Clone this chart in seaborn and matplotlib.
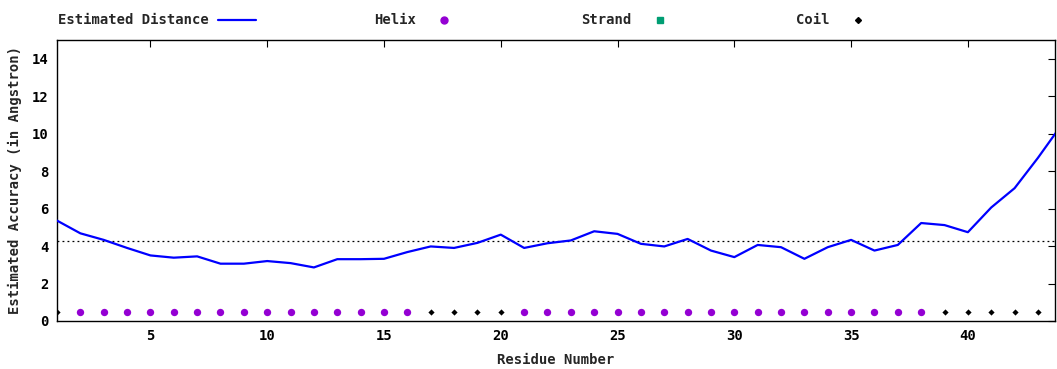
import numpy as np
import pandas as pd
import matplotlib
matplotlib.use("Agg")
import matplotlib.pyplot as plt
import seaborn as sns
from matplotlib.lines import Line2D

# Estimated distance per residue (last point runs past the right edge)
residues = list(range(1, 45))
est_dist = [5.36, 4.68, 4.33, 3.90, 3.50, 3.38, 3.45, 3.06, 3.06, 3.20,
            3.09, 2.86, 3.30, 3.30, 3.32, 3.68, 3.98, 3.90, 4.17, 4.61,
            3.90, 4.15, 4.30, 4.79, 4.65, 4.12, 3.98, 4.38, 3.76, 3.41,
            4.06, 3.94, 3.32, 3.94, 4.33, 3.76, 4.06, 5.23, 5.12, 4.74,
            6.06, 7.09, 8.71, 10.45]

# secondary structure per residue (H helix, E strand, C coil)
ss_string = "C" + "H" * 15 + "C" * 4 + "H" * 18 + "C" * 5
ss_residues = list(range(1, len(ss_string) + 1))
ss_level = 0.5
avg_dist = 4.29

ss_names = {"H": "Helix", "E": "Strand", "C": "Coil"}
ss_colors = {"Helix": "#9400d3", "Strand": "#009e73", "Coil": "#000000"}
ss_markers = {"Helix": "o", "Strand": "s", "Coil": "D"}
ss_sizes = {"Helix": 28, "Strand": 30, "Coil": 10}

df_line = pd.DataFrame({"Residue": residues, "Distance": est_dist})
df_ss = pd.DataFrame({"Residue": ss_residues,
                      "Level": [ss_level] * len(ss_residues),
                      "SS": [ss_names[c] for c in ss_string]})

sns.set_style("white")
plt.rcParams["font.family"] = ["DejaVu Sans Mono"]
plt.rcParams["font.weight"] = "bold"

fig = plt.figure(figsize=(10.57, 3.69), dpi=100)
ax = fig.add_axes([57 / 1057, 48 / 369, 998 / 1057, 281 / 369])

ax.axhline(avg_dist, color="black", linestyle=(0, (1.5, 2.5)), linewidth=0.9, zorder=1)
sns.lineplot(data=df_line, x="Residue", y="Distance", color="#0000ff",
             linewidth=1.6, ax=ax, zorder=3, legend=False)
for name in ["Helix", "Coil"]:
    sub = df_ss[df_ss["SS"] == name]
    sns.scatterplot(data=sub, x="Residue", y="Level", color=ss_colors[name],
                    marker=ss_markers[name], s=ss_sizes[name], linewidth=0,
                    ax=ax, zorder=4, legend=False)

ax.set_xlim(1, 43.73)
ax.set_ylim(0, 15)
ax.set_xticks([5, 10, 15, 20, 25, 30, 35, 40])
ax.set_yticks([0, 2, 4, 6, 8, 10, 12, 14])
ax.tick_params(direction="in", length=5, width=0.8, top=True, right=True,
               labelsize=10, pad=6, colors="black")
for spine in ax.spines.values():
    spine.set_color("black")
    spine.set_linewidth(1.0)
ax.set_xlabel("Residue Number", fontsize=10, fontweight="bold", labelpad=7)
ax.set_ylabel("Estimated Accuracy (in Angstron)", fontsize=10, fontweight="bold", labelpad=7)
ax.grid(False)

handles = [
    Line2D([], [], color="#0000ff", linewidth=1.6),
    Line2D([], [], color=ss_colors["Helix"], marker="o", linestyle="", markersize=5),
    Line2D([], [], color=ss_colors["Strand"], marker="s", linestyle="", markersize=5),
    Line2D([], [], color=ss_colors["Coil"], marker="D", linestyle="", markersize=3),
]
labels = ["Estimated Distance", "Helix", "Strand", "Coil"]
fig.legend(handles, labels, loc="upper left", bbox_to_anchor=(48 / 1057, 0.99),
           ncol=4, frameon=False, markerfirst=False, fontsize=10,
           handlelength=2.7, handletextpad=0.7, columnspacing=8.5,
           borderaxespad=0.3)

fig.savefig("out.png", dpi=100)
